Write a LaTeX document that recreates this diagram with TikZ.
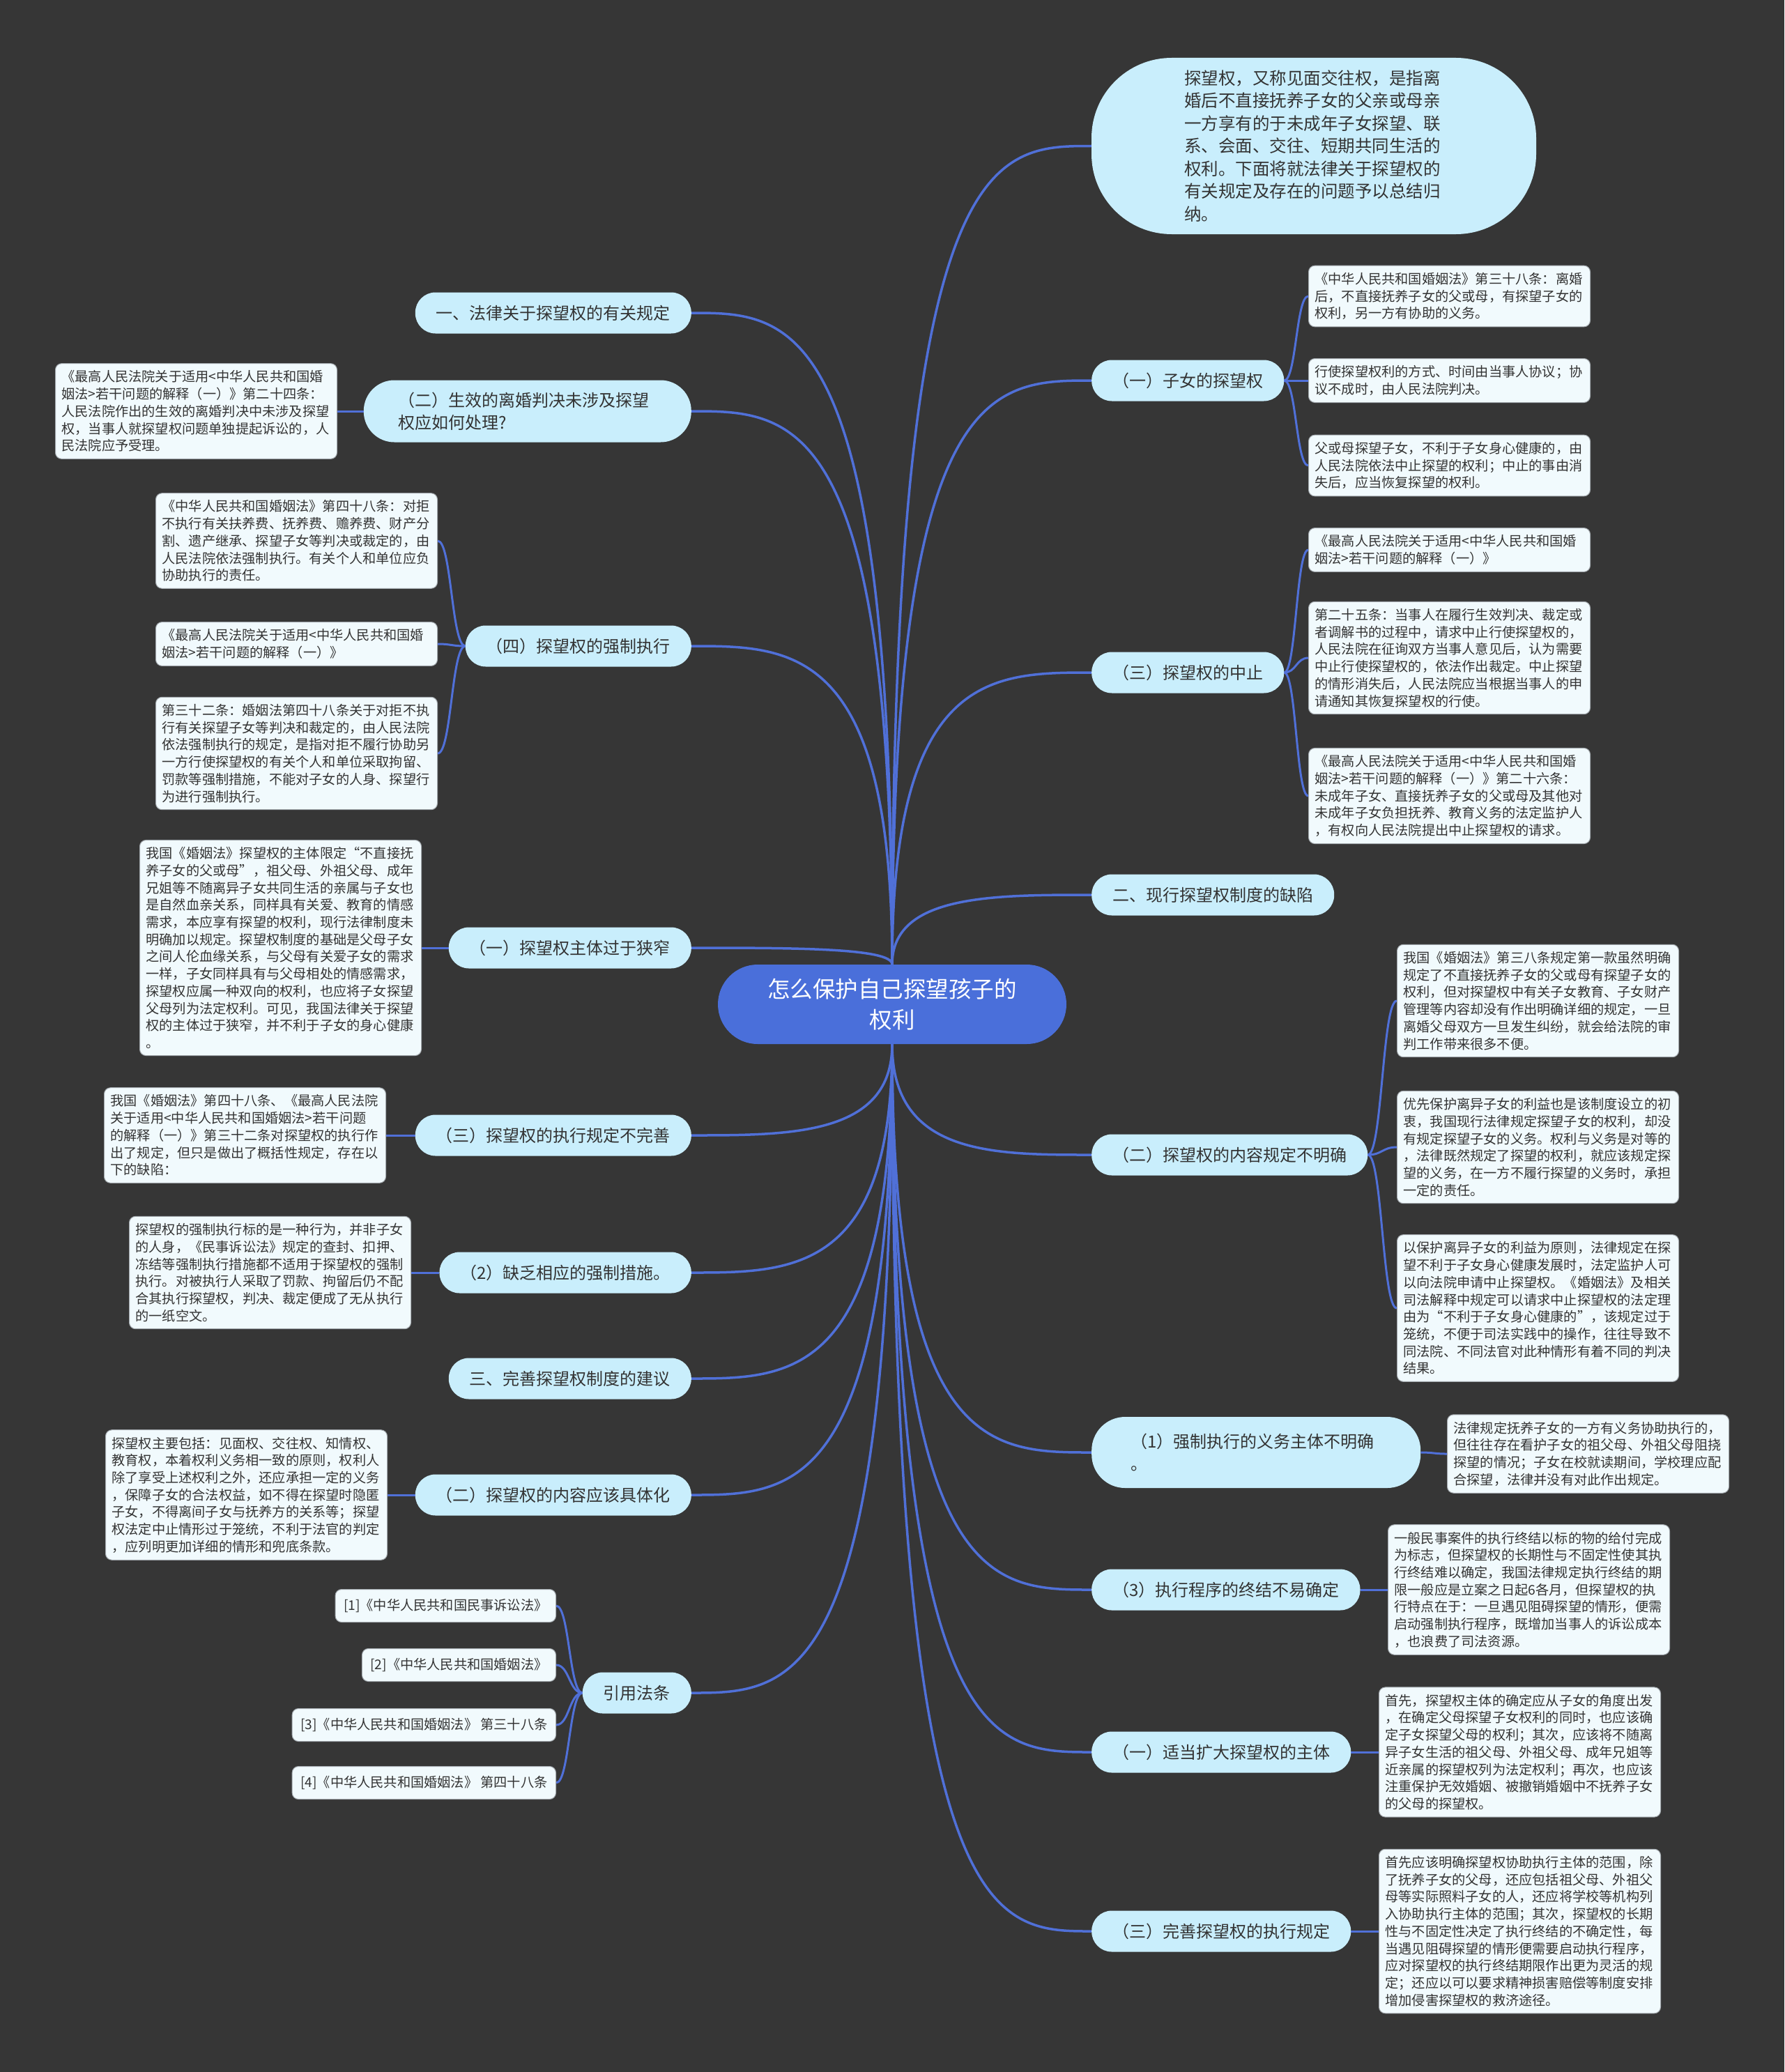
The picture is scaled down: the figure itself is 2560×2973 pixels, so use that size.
\documentclass[tikz,border=0pt]{standalone}
\usepackage{fontspec}
\setmainfont{Noto Sans CJK SC}
\usetikzlibrary{calc}
\definecolor{bgc}{HTML}{363636}
\definecolor{mainblue}{HTML}{4A6FDA}
\definecolor{linkblue}{HTML}{5070D8}
\definecolor{lvone}{HTML}{C9EEFC}
\definecolor{leaffill}{HTML}{F1FAFD}
\definecolor{leafline}{HTML}{A3A9AE}
\definecolor{txt}{HTML}{333333}
\pgfdeclarelayer{backdrop}
\pgfsetlayers{backdrop,main}
\newcommand\ctrlink[2]{\draw[branch] (#1) .. controls (#1 |- #2) and ($(#1 |- #2)!0.5!(#2)$) .. (#2);}
\newcommand\leaflink[2]{\draw[twig] (#1) .. controls ($(#1)!0.5!(#1 -| #2)$) and ($(#2)!0.5!(#2 -| #1)$) .. (#2);}
\tikzset{
  rootbox/.style={fill=mainblue, text=white, rounded corners=57pt, minimum width=500pt, minimum height=114pt, align=center, font=\fontsize{32.5}{44}\selectfont},
  bubblebox/.style={fill=lvone, text=txt, rounded corners=115pt, minimum width=638pt, minimum height=253pt, text width=372pt, align=left, font=\fontsize{24.5}{32.5}\selectfont},
  topicbox/.style={fill=lvone, text=txt, rounded corners=29pt, minimum height=59pt, inner xsep=30pt, inner ysep=8pt, font=\fontsize{24}{32}\selectfont},
  leafbox/.style={fill=leaffill, draw=leafline, line width=1pt, rounded corners=9pt, text=txt, text width=386pt, align=left, inner xsep=9pt, inner ysep=10pt, font=\fontsize{19.2}{24.7}\selectfont},
  refbox/.style={fill=leaffill, draw=leafline, line width=1pt, rounded corners=9pt, text=txt, inner xsep=12pt, minimum height=47pt, font=\fontsize{19.2}{24.7}\selectfont},
  branch/.style={draw=linkblue, line width=3.5pt},
  twig/.style={draw=linkblue, line width=3pt}
}
\begin{document}
\begin{tikzpicture}[x=1pt,y=-1pt]
\begin{pgfonlayer}{backdrop}
\fill[bgc] (0,0) rectangle (2560,2973);
\end{pgfonlayer}
\useasboundingbox (0,0) rectangle (2560,2973);

% root
\node[rootbox] (c) at (1280,1441) {怎么保护自己探望孩子的\\权利};

% right topics
\node[bubblebox] (r0) at (1885,209.5) {探望权，又称见面交往权，是指离\\婚后不直接抚养子女的父亲或母亲\\一方享有的于未成年子女探望、联\\系、会面、交往、短期共同生活的\\权利。下面将就法律关于探望权的\\有关规定及存在的问题予以总结归\\纳。};
\node[topicbox, anchor=west] (r1) at (1566,546) {（一）子女的探望权};
\node[topicbox, anchor=west] (r2) at (1566,965) {（三）探望权的中止};
\node[topicbox, anchor=west] (r3) at (1566,1284) {二、现行探望权制度的缺陷};
\node[topicbox, anchor=west] (r4) at (1566,1657) {（二）探望权的内容规定不明确};
\node[topicbox, anchor=west, text width=360pt, align=left, inner xsep=56pt, minimum height=102pt, rounded corners=48pt] (r5) at (1566,2084) {（1）强制执行的义务主体不明确\\。};
\node[topicbox, anchor=west] (r6) at (1566,2281) {（3）执行程序的终结不易确定};
\node[topicbox, anchor=west] (r7) at (1566,2514) {（一）适当扩大探望权的主体};
\node[topicbox, anchor=west] (r8) at (1566,2771) {（三）完善探望权的执行规定};

% left topics
\node[topicbox, anchor=east] (l1) at (992,449) {一、法律关于探望权的有关规定};
\node[topicbox, anchor=east, text width=370pt, align=left, inner xsep=50pt, minimum height=89pt, rounded corners=44pt] (l2) at (992,590) {（二）生效的离婚判决未涉及探望\\权应如何处理?};
\node[topicbox, anchor=east] (l3) at (992,927) {（四）探望权的强制执行};
\node[topicbox, anchor=east] (l4) at (992,1360) {（一）探望权主体过于狭窄};
\node[topicbox, anchor=east] (l5) at (992,1629) {（三）探望权的执行规定不完善};
\node[topicbox, anchor=east] (l6) at (992,1826) {（2）缺乏相应的强制措施。};
\node[topicbox, anchor=east] (l7) at (992,1978) {三、完善探望权制度的建议};
\node[topicbox, anchor=east] (l8) at (992,2145) {（二）探望权的内容应该具体化};
\node[topicbox, anchor=east] (l9) at (992,2429) {引用法条};

% right leaves
\node[leafbox, anchor=west] (r1a) at (1877,425) {《中华人民共和国婚姻法》第三十八条：离婚\\后，不直接抚养子女的父或母，有探望子女的\\权利，另一方有协助的义务。};
\node[leafbox, anchor=west] (r1b) at (1877,546) {行使探望权利的方式、时间由当事人协议；协\\议不成时，由人民法院判决。};
\node[leafbox, anchor=west] (r1c) at (1877,668) {父或母探望子女，不利于子女身心健康的，由\\人民法院依法中止探望的权利；中止的事由消\\失后，应当恢复探望的权利。};
\node[leafbox, anchor=west] (r2a) at (1877,789) {《最高人民法院关于适用<中华人民共和国婚\\姻法>若干问题的解释（一）》};
\node[leafbox, anchor=west] (r2b) at (1877,944) {第二十五条：当事人在履行生效判决、裁定或\\者调解书的过程中，请求中止行使探望权的，\\人民法院在征询双方当事人意见后，认为需要\\中止行使探望权的，依法作出裁定。中止探望\\的情形消失后，人民法院应当根据当事人的申\\请通知其恢复探望权的行使。};
\node[leafbox, anchor=west] (r2c) at (1877,1142) {《最高人民法院关于适用<中华人民共和国婚\\姻法>若干问题的解释（一）》第二十六条：\\未成年子女、直接抚养子女的父或母及其他对\\未成年子女负担抚养、教育义务的法定监护人\\，有权向人民法院提出中止探望权的请求。};
\node[leafbox, anchor=west] (r4a) at (2004,1436) {我国《婚姻法》第三八条规定第一款虽然明确\\规定了不直接抚养子女的父或母有探望子女的\\权利，但对探望权中有关子女教育、子女财产\\管理等内容却没有作出明确详细的规定，一旦\\离婚父母双方一旦发生纠纷，就会给法院的审\\判工作带来很多不便。};
\node[leafbox, anchor=west] (r4b) at (2004,1646) {优先保护离异子女的利益也是该制度设立的初\\衷，我国现行法律规定探望子女的权利，却没\\有规定探望子女的义务。权利与义务是对等的\\，法律既然规定了探望的权利，就应该规定探\\望的义务，在一方不履行探望的义务时，承担\\一定的责任。};
\node[leafbox, anchor=west] (r4c) at (2004,1877) {以保护离异子女的利益为原则，法律规定在探\\望不利于子女身心健康发展时，法定监护人可\\以向法院申请中止探望权。《婚姻法》及相关\\司法解释中规定可以请求中止探望权的法定理\\由为“不利于子女身心健康的”，该规定过于\\笼统，不便于司法实践中的操作，往往导致不\\同法院、不同法官对此种情形有着不同的判决\\结果。};
\node[leafbox, anchor=west] (r5a) at (2076,2086) {法律规定抚养子女的一方有义务协助执行的，\\但往往存在看护子女的祖父母、外祖父母阻挠\\探望的情况；子女在校就读期间，学校理应配\\合探望，法律并没有对此作出规定。};
\node[leafbox, anchor=west] (r6a) at (1991,2281) {一般民事案件的执行终结以标的物的给付完成\\为标志，但探望权的长期性与不固定性使其执\\行终结难以确定，我国法律规定执行终结的期\\限一般应是立案之日起6各月，但探望权的执\\行特点在于：一旦遇见阻碍探望的情形，便需\\启动强制执行程序，既增加当事人的诉讼成本\\，也浪费了司法资源。};
\node[leafbox, anchor=west] (r7a) at (1978,2514) {首先，探望权主体的确定应从子女的角度出发\\，在确定父母探望子女权利的同时，也应该确\\定子女探望父母的权利；其次，应该将不随离\\异子女生活的祖父母、外祖父母、成年兄姐等\\近亲属的探望权列为法定权利；再次，也应该\\注重保护无效婚姻、被撤销婚姻中不抚养子女\\的父母的探望权。};
\node[leafbox, anchor=west] (r8a) at (1978,2771) {首先应该明确探望权协助执行主体的范围，除\\了抚养子女的父母，还应包括祖父母、外祖父\\母等实际照料子女的人，还应将学校等机构列\\入协助执行主体的范围；其次，探望权的长期\\性与不固定性决定了执行终结的不确定性，每\\当遇见阻碍探望的情形便需要启动执行程序，\\应对探望权的执行终结期限作出更为灵活的规\\定；还应以可以要求精神损害赔偿等制度安排\\增加侵害探望权的救济途径。};

% left leaves
\node[leafbox, anchor=east] (l2a) at (484,590) {《最高人民法院关于适用<中华人民共和国婚\\姻法>若干问题的解释（一）》第二十四条：\\人民法院作出的生效的离婚判决中未涉及探望\\权，当事人就探望权问题单独提起诉讼的，人\\民法院应予受理。};
\node[leafbox, anchor=east] (l3a) at (628,776) {《中华人民共和国婚姻法》第四十八条：对拒\\不执行有关扶养费、抚养费、赡养费、财产分\\割、遗产继承、探望子女等判决或裁定的，由\\人民法院依法强制执行。有关个人和单位应负\\协助执行的责任。};
\node[leafbox, anchor=east] (l3b) at (628,924) {《最高人民法院关于适用<中华人民共和国婚\\姻法>若干问题的解释（一）》};
\node[leafbox, anchor=east] (l3c) at (628,1081) {第三十二条：婚姻法第四十八条关于对拒不执\\行有关探望子女等判决和裁定的，由人民法院\\依法强制执行的规定，是指对拒不履行协助另\\一方行使探望权的有关个人和单位采取拘留、\\罚款等强制措施，不能对子女的人身、探望行\\为进行强制执行。};
\node[leafbox, anchor=east] (l4a) at (605,1360) {我国《婚姻法》探望权的主体限定“不直接抚\\养子女的父或母”，祖父母、外祖父母、成年\\兄姐等不随离异子女共同生活的亲属与子女也\\是自然血亲关系，同样具有关爱、教育的情感\\需求，本应享有探望的权利，现行法律制度未\\明确加以规定。探望权制度的基础是父母子女\\之间人伦血缘关系，与父母有关爱子女的需求\\一样，子女同样具有与父母相处的情感需求，\\探望权应属一种双向的权利，也应将子女探望\\父母列为法定权利。可见，我国法律关于探望\\权的主体过于狭窄，并不利于子女的身心健康\\。};
\node[leafbox, anchor=east] (l5a) at (554,1629) {我国《婚姻法》第四十八条、《最高人民法院\\关于适用<中华人民共和国婚姻法>若干问题\\的解释（一）》第三十二条对探望权的执行作\\出了规定，但只是做出了概括性规定，存在以\\下的缺陷：};
\node[leafbox, anchor=east] (l6a) at (590,1826) {探望权的强制执行标的是一种行为，并非子女\\的人身，《民事诉讼法》规定的查封、扣押、\\冻结等强制执行措施都不适用于探望权的强制\\执行。对被执行人采取了罚款、拘留后仍不配\\合其执行探望权，判决、裁定便成了无从执行\\的一纸空文。};
\node[leafbox, anchor=east] (l8a) at (556,2145) {探望权主要包括：见面权、交往权、知情权、\\教育权，本着权利义务相一致的原则，权利人\\除了享受上述权利之外，还应承担一定的义务\\，保障子女的合法权益，如不得在探望时隐匿\\子女，不得离间子女与抚养方的关系等；探望\\权法定中止情形过于笼统，不利于法官的判定\\，应列明更加详细的情形和兜底条款。};
\node[refbox, anchor=east] (l9a) at (798,2304) {[1]《中华人民共和国民事诉讼法》};
\node[refbox, anchor=east] (l9b) at (798,2389) {[2]《中华人民共和国婚姻法》};
\node[refbox, anchor=east] (l9c) at (798,2475) {[3]《中华人民共和国婚姻法》 第三十八条};
\node[refbox, anchor=east] (l9d) at (798,2558) {[4]《中华人民共和国婚姻法》 第四十八条};

\begin{pgfonlayer}{backdrop}
% root to topics
\ctrlink{c.north}{r0.west}
\ctrlink{c.north}{r1.west}
\ctrlink{c.north}{r2.west}
\ctrlink{c.north}{r3.west}
\ctrlink{c.south}{r4.west}
\ctrlink{c.south}{r5.west}
\ctrlink{c.south}{r6.west}
\ctrlink{c.south}{r7.west}
\ctrlink{c.south}{r8.west}
\ctrlink{c.north}{l1.east}
\ctrlink{c.north}{l2.east}
\ctrlink{c.north}{l3.east}
\ctrlink{c.north}{l4.east}
\ctrlink{c.south}{l5.east}
\ctrlink{c.south}{l6.east}
\ctrlink{c.south}{l7.east}
\ctrlink{c.south}{l8.east}
\ctrlink{c.south}{l9.east}
% topics to leaves
\leaflink{r1.east}{r1a.west}
\leaflink{r1.east}{r1b.west}
\leaflink{r1.east}{r1c.west}
\leaflink{r2.east}{r2a.west}
\leaflink{r2.east}{r2b.west}
\leaflink{r2.east}{r2c.west}
\leaflink{r4.east}{r4a.west}
\leaflink{r4.east}{r4b.west}
\leaflink{r4.east}{r4c.west}
\leaflink{r5.east}{r5a.west}
\leaflink{r6.east}{r6a.west}
\leaflink{r7.east}{r7a.west}
\leaflink{r8.east}{r8a.west}
\leaflink{l2.west}{l2a.east}
\leaflink{l3.west}{l3a.east}
\leaflink{l3.west}{l3b.east}
\leaflink{l3.west}{l3c.east}
\leaflink{l4.west}{l4a.east}
\leaflink{l5.west}{l5a.east}
\leaflink{l6.west}{l6a.east}
\leaflink{l8.west}{l8a.east}
\leaflink{l9.west}{l9a.east}
\leaflink{l9.west}{l9b.east}
\leaflink{l9.west}{l9c.east}
\leaflink{l9.west}{l9d.east}
\end{pgfonlayer}
\end{tikzpicture}
\end{document}
